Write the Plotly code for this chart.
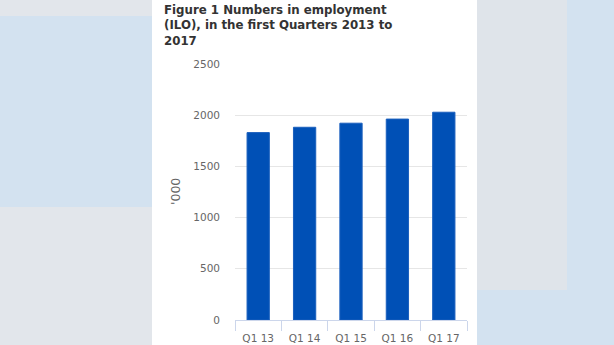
import plotly.graph_objects as go

categories = ["Q1 13", "Q1 14", "Q1 15", "Q1 16", "Q1 17"]
employment = [1830, 1882, 1922, 1962, 2029]
y_ticks = [0, 500, 1000, 1500, 2000, 2500]

W, H = 614, 345
L, R, T, B = 235, 147, 64, 25
PW, PH = W - L - R, H - T - B


def px(x):
    return (x - L) / PW


def py(y):
    return (H - B - y) / PH


fig = go.Figure(
    go.Bar(
        x=categories,
        y=employment,
        marker=dict(color="#0050b6", line=dict(color="#1a5fbd", width=1)),
        width=0.48,
    )
)

shapes = []
def rect(x0, y0, x1, y1, color):
    shapes.append(dict(type="rect", xref="paper", yref="paper",
                       x0=px(x0), x1=px(x1), y0=py(y1), y1=py(y0),
                       fillcolor=color, line=dict(width=0), layer="below"))

rect(0, 16, 152, 207, "#d3e2f0")
rect(567, -5, 620, 350, "#d3e2f0")
rect(477, 290, 567, 350, "#d3e2f0")
rect(477, -5, 567, 290, "#dfe4ea")
rect(152, -5, 477, 350, "#ffffff")

fig.update_layout(
    width=W, height=H,
    margin=dict(l=L, r=R, t=T, b=B, pad=0, autoexpand=False),
    paper_bgcolor="#e2e6eb",
    plot_bgcolor="rgba(0,0,0,0)",
    showlegend=False,
    shapes=shapes,
    font=dict(family="DejaVu Sans", color="#666666", size=11),
    xaxis=dict(
        automargin=False,
        showgrid=False,
        showline=True, linecolor="#ccd6eb", linewidth=1,
        ticks="outside", tickson="boundaries", ticklen=10, tickcolor="#ccd6eb",
        ticklabelstandoff=8,
        tickfont=dict(size=10.5, color="#666666"),
    ),
    yaxis=dict(
        automargin=False,
        range=[0, 2500],
        tickvals=y_ticks,
        showgrid=True, gridcolor="#e6e6e6", gridwidth=1,
        zeroline=False, showline=False,
        ticks="", ticklabelstandoff=14,
        tickfont=dict(size=10.5, color="#666666"),
    ),
    annotations=[
        dict(
            text="<b>Figure 1 Numbers in employment<br>(ILO), in the first Quarters 2013 to<br>2017</b>",
            xref="paper", yref="paper", x=px(162), y=py(1),
            xanchor="left", yanchor="top", align="left", showarrow=False,
            font=dict(family="DejaVu Sans", size=11.8, color="#333333"),
        ),
        dict(
            text="'000", xref="paper", yref="paper",
            x=px(175), y=0.5, xanchor="center", yanchor="middle",
            textangle=-90, showarrow=False,
            font=dict(family="DejaVu Sans", size=12.5, color="#666666"),
        ),
    ],
)

fig.write_html("out.html")
